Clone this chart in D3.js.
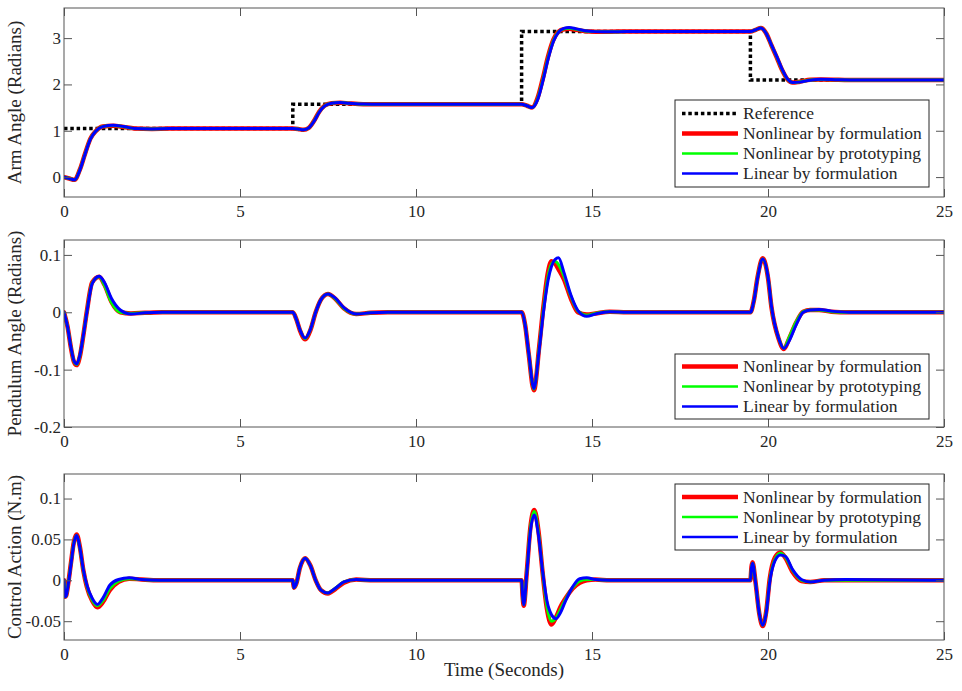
<!DOCTYPE html>
<html>
<head>
<meta charset="utf-8">
<script src="https://cdn.jsdelivr.net/npm/d3@7"></script>
<style>
  html, body { margin: 0; padding: 0; background: #fff; }
  svg { display: block; }
  text { font-family: "Liberation Serif", "Times New Roman", serif; fill: #262626; }
</style>
</head>
<body>
<svg id="chart" width="962" height="691"></svg>
<script>
// ---------------- DATA ----------------
const xTicks = [0, 5, 10, 15, 20, 25];
const seriesNames = ["Nonlinear by formulation", "Nonlinear by prototyping", "Linear by formulation"];
const seriesColors = ["#ff0000", "#00ff00", "#0000ff"];
const referenceName = "Reference";

// Reference (step) signal
const refTime = [0, 6.5, 13, 19.5, 25];
const refValue = [1.047, 1.571, 3.142, 2.094, 2.094];

// Arm angle
const armTime = [0, 0.15, 0.3, 0.45, 0.6, 0.75, 0.9, 1.1, 1.4, 1.7, 2.0, 2.5, 3.0,
  6.5, 6.65, 6.8, 6.95, 7.1, 7.25, 7.4, 7.6, 7.85, 8.1, 8.5, 9.0,
  13.0, 13.15, 13.3, 13.45, 13.6, 13.75, 13.9, 14.05, 14.2, 14.35, 14.55, 14.8, 15.1, 15.5, 16.0,
  19.5, 19.65, 19.8, 19.95, 20.1, 20.25, 20.4, 20.55, 20.7, 20.9, 21.2, 21.5, 22.0, 22.5, 25];
const armNonlinForm = [0, -0.03, -0.06, 0.16, 0.51, 0.83, 0.99, 1.09, 1.11, 1.08, 1.05, 1.04, 1.047,
  1.047, 1.04, 1.02, 1.06, 1.21, 1.41, 1.54, 1.595, 1.605, 1.59, 1.573, 1.571,
  1.571, 1.54, 1.50, 1.70, 2.12, 2.6, 2.96, 3.14, 3.19, 3.2, 3.18, 3.15, 3.14, 3.14, 3.142,
  3.142, 3.18, 3.22, 3.1, 2.84, 2.58, 2.31, 2.11, 2.04, 2.06, 2.1, 2.105, 2.1, 2.094, 2.094];
const armNonlinProto = [0, -0.03, -0.06, 0.155, 0.505, 0.825, 0.99, 1.09, 1.115, 1.085, 1.05, 1.04, 1.047,
  1.047, 1.04, 1.02, 1.06, 1.205, 1.405, 1.535, 1.595, 1.608, 1.592, 1.574, 1.571,
  1.571, 1.54, 1.50, 1.68, 2.09, 2.57, 2.94, 3.135, 3.2, 3.215, 3.19, 3.155, 3.14, 3.137, 3.142,
  3.142, 3.18, 3.22, 3.1, 2.845, 2.59, 2.32, 2.115, 2.04, 2.055, 2.095, 2.108, 2.1, 2.094, 2.094];
const armLinForm = [0, -0.03, -0.06, 0.15, 0.5, 0.82, 0.99, 1.09, 1.12, 1.09, 1.05, 1.04, 1.047,
  1.047, 1.04, 1.02, 1.06, 1.2, 1.4, 1.53, 1.595, 1.61, 1.595, 1.575, 1.571,
  1.571, 1.54, 1.50, 1.66, 2.06, 2.54, 2.92, 3.13, 3.21, 3.23, 3.2, 3.16, 3.14, 3.135, 3.142,
  3.142, 3.18, 3.22, 3.1, 2.85, 2.6, 2.33, 2.12, 2.04, 2.05, 2.09, 2.11, 2.1, 2.094, 2.094];

// Pendulum angle
const penTime = [0, 0.1, 0.2, 0.28, 0.36, 0.45, 0.55, 0.65, 0.8, 1.0, 1.15, 1.35, 1.6, 1.9, 2.3, 2.8,
  6.5, 6.6, 6.7, 6.85, 7.0, 7.15, 7.3, 7.5, 7.7, 7.95, 8.3, 8.7, 9.2,
  13.0, 13.1, 13.2, 13.35, 13.5, 13.62, 13.75, 13.85, 13.95, 14.05, 14.2, 14.4, 14.6, 14.85, 15.1, 15.5, 16.0,
  19.5, 19.6, 19.7, 19.85, 20.0, 20.1, 20.3, 20.45, 20.6, 20.8, 21.0, 21.2, 21.45, 21.8, 22.3, 25];
const penNonlinForm = [0, -0.025, -0.063, -0.086, -0.092, -0.077, -0.04, 0.002, 0.052, 0.062, 0.048, 0.018, 0.0, -0.002, -0.001, 0,
  0, -0.012, -0.031, -0.047, -0.031, 0.0, 0.022, 0.032, 0.024, 0.007, -0.003, -0.001, 0,
  0, -0.022, -0.072, -0.136, -0.06, 0.01, 0.07, 0.089, 0.085, 0.075, 0.058, 0.024, 0.0, -0.004, -0.002, 0.001, 0,
  0, 0.021, 0.06, 0.094, 0.06, 0.008, -0.046, -0.064, -0.046, -0.018, 0.001, 0.004, 0.004, 0.001, 0, 0];
const penNonlinProto = [0, -0.025, -0.062, -0.085, -0.091, -0.076, -0.04, 0.001, 0.051, 0.062, 0.047, 0.017, 0.0, -0.002, -0.001, 0,
  0, -0.012, -0.03, -0.046, -0.03, 0.0, 0.022, 0.032, 0.024, 0.007, -0.003, -0.001, 0,
  0, -0.022, -0.071, -0.134, -0.062, 0.005, 0.062, 0.084, 0.089, 0.083, 0.064, 0.028, 0.002, -0.005, -0.002, 0.001, 0,
  0, 0.02, 0.059, 0.093, 0.061, 0.009, -0.045, -0.063, -0.044, -0.017, 0.001, 0.004, 0.004, 0.001, 0, 0];
const penLinForm = [0, -0.025, -0.062, -0.084, -0.09, -0.075, -0.04, 0.0, 0.05, 0.063, 0.052, 0.024, 0.004, -0.003, -0.001, 0,
  0, -0.012, -0.03, -0.045, -0.03, 0.0, 0.022, 0.032, 0.025, 0.008, -0.003, -0.001, 0,
  0, -0.022, -0.07, -0.133, -0.065, 0.0, 0.055, 0.08, 0.092, 0.095, 0.07, 0.03, 0.003, -0.007, -0.003, 0.001, 0,
  0, 0.02, 0.058, 0.093, 0.062, 0.01, -0.045, -0.063, -0.05, -0.022, 0.0, 0.004, 0.005, 0.002, 0, 0];

// Control action
const ctlTime = [0, 0.03, 0.06, 0.12, 0.2, 0.28, 0.36, 0.45, 0.55, 0.65, 0.8, 0.95, 1.1, 1.3, 1.55, 1.85, 2.2, 2.7,
  6.5, 6.53, 6.6, 6.7, 6.85, 7.0, 7.15, 7.3, 7.5, 7.7, 7.95, 8.3, 8.8,
  13.0, 13.03, 13.06, 13.15, 13.25, 13.36, 13.48, 13.6, 13.72, 13.85, 13.98, 14.1, 14.25, 14.45, 14.65, 14.85, 15.1, 15.5, 16.0,
  19.5, 19.53, 19.56, 19.65, 19.75, 19.85, 19.95, 20.05, 20.2, 20.35, 20.5, 20.7, 20.95, 21.2, 21.6, 22.2, 25];
const ctlNonlinForm = [0, -0.02, -0.019, -0.004, 0.022, 0.047, 0.056, 0.041, 0.012, -0.008, -0.025, -0.033, -0.027, -0.012, -0.002, 0.002, 0.001, 0,
  0, -0.009, -0.004, 0.015, 0.027, 0.018, 0.0, -0.012, -0.016, -0.011, -0.003, 0.001, 0,
  0, -0.02, -0.031, 0.012, 0.065, 0.086, 0.06, 0.008, -0.035, -0.054, -0.045, -0.033, -0.022, -0.01, -0.003, 0.0, 0.001, 0, 0,
  0, 0.016, 0.022, -0.004, -0.04, -0.056, -0.038, 0.002, 0.028, 0.034, 0.027, 0.01, -0.001, -0.002, 0.0, 0.0, 0];
const ctlNonlinProto = [0, -0.02, -0.019, -0.004, 0.021, 0.046, 0.055, 0.04, 0.012, -0.007, -0.024, -0.031, -0.025, -0.01, -0.001, 0.002, 0.001, 0,
  0, -0.009, -0.004, 0.015, 0.027, 0.018, 0.0, -0.012, -0.0155, -0.01, -0.002, 0.001, 0,
  0, -0.02, -0.03, 0.011, 0.063, 0.084, 0.058, 0.009, -0.032, -0.05, -0.046, -0.036, -0.023, -0.009, -0.001, 0.001, 0.001, 0, 0,
  0, 0.015, 0.021, -0.004, -0.04, -0.055, -0.039, 0.0, 0.026, 0.033, 0.028, 0.012, 0.0, -0.002, 0, 0, 0];
const ctlLinForm = [0, -0.02, -0.019, -0.005, 0.02, 0.045, 0.055, 0.04, 0.013, -0.006, -0.022, -0.0295, -0.022, -0.006, 0.001, 0.003, 0.001, 0,
  0, -0.009, -0.004, 0.015, 0.027, 0.018, 0.0, -0.012, -0.0155, -0.01, -0.002, 0.001, 0,
  0, -0.02, -0.03, 0.01, 0.06, 0.08, 0.055, 0.01, -0.025, -0.042, -0.047, -0.04, -0.025, -0.008, 0.002, 0.003, 0.001, 0, 0,
  0, 0.015, 0.021, -0.004, -0.04, -0.055, -0.04, -0.002, 0.024, 0.031, 0.029, 0.013, 0.001, -0.002, 0.0, 0.001, 0];

const armYTicks = [0, 1, 2, 3];
const penYTicks = [-0.2, -0.1, 0, 0.1];
const ctlYTicks = [-0.05, 0, 0.05, 0.1];

// ---------------- LAYOUT ----------------
const svg = d3.select("#chart");
const left = 64, right = 944;
const x = d3.scaleLinear().domain([0, 25]).range([left, right]);
const tickLen = 8;
const axisColor = "#555";

const panels = [
  { top: 8, bottom: 197, domain: [-0.43, 3.65], ticks: armYTicks, label: "Arm Angle (Radians)",
    time: armTime, series: [armNonlinForm, armNonlinProto, armLinForm], reference: true,
    legend: { x: 675, y: 100, w: 254, h: 87 } },
  { top: 240, bottom: 427, domain: [-0.2, 0.126], ticks: penYTicks, label: "Pendulum Angle (Radians)",
    time: penTime, series: [penNonlinForm, penNonlinProto, penLinForm], reference: false,
    legend: { x: 675, y: 354, w: 254, h: 65 } },
  { top: 474, bottom: 640, domain: [-0.073, 0.13], ticks: ctlYTicks, label: "Control Action (N.m)",
    time: ctlTime, series: [ctlNonlinForm, ctlNonlinProto, ctlLinForm], reference: false,
    legend: { x: 675, y: 484, w: 254, h: 66 } }
];

const widths = [4.5, 3, 3];

panels.forEach((p, i) => {
  const y = d3.scaleLinear().domain(p.domain).range([p.bottom, p.top]);
  const g = svg.append("g");
  const clipId = "clip" + i;
  svg.append("clipPath").attr("id", clipId)
    .append("rect").attr("x", left).attr("y", p.top).attr("width", right - left).attr("height", p.bottom - p.top);

  g.append("rect").attr("x", left).attr("y", p.top).attr("width", right - left).attr("height", p.bottom - p.top)
    .attr("fill", "#fff");

  const lg = g.append("g").attr("clip-path", `url(#${clipId})`);
  if (p.reference) {
    const refData = refTime.map((t, k) => [t, refValue[k]]);
    lg.append("path").datum(refData)
      .attr("fill", "none").attr("stroke", "#000").attr("stroke-width", 3.5)
      .attr("stroke-dasharray", "3.5,2.8")
      .attr("d", d3.line().x(d => x(d[0])).y(d => y(d[1])).curve(d3.curveStepAfter));
  }
  p.series.forEach((vals, s) => {
    const data = p.time.map((t, k) => [t, vals[k]]);
    lg.append("path").datum(data)
      .attr("fill", "none").attr("stroke", seriesColors[s]).attr("stroke-width", widths[s])
      .attr("stroke-linejoin", "round").attr("stroke-linecap", "round")
      .attr("d", d3.line().x(d => x(d[0])).y(d => y(d[1])).curve(d3.curveMonotoneX));
  });

  const bottomAxis = d3.axisBottom(x).tickValues(xTicks).tickSizeInner(-tickLen).tickSizeOuter(0)
    .tickPadding(8).tickFormat(d3.format("d"));
  const ax = g.append("g").attr("transform", `translate(0,${p.bottom})`).call(bottomAxis);
  const topAxis = d3.axisTop(x).tickValues(xTicks).tickSizeInner(-tickLen).tickSizeOuter(0).tickFormat("");
  const axt = g.append("g").attr("transform", `translate(0,${p.top})`).call(topAxis);
  const leftAxis = d3.axisLeft(y).tickValues(p.ticks).tickSizeInner(-tickLen).tickSizeOuter(0)
    .tickPadding(3).tickFormat(d => (d < 0 ? "-" : "") + d3.format("")(Math.abs(d)));
  const axl = g.append("g").attr("transform", `translate(${left},0)`).call(leftAxis);
  const rightAxis = d3.axisRight(y).tickValues(p.ticks).tickSizeInner(-tickLen).tickSizeOuter(0).tickFormat("");
  const axr = g.append("g").attr("transform", `translate(${right},0)`).call(rightAxis);
  [ax, axt, axl, axr].forEach(a => {
    a.selectAll(".domain").remove();
    a.selectAll("line").attr("stroke", axisColor).attr("stroke-width", 1);
    a.selectAll("text").attr("fill", "#262626").style("font-size", "17px")
      .style("font-family", '"Liberation Serif", serif');
  });
  ax.selectAll("text").attr("dy", "0.71em");

  g.append("rect").attr("x", left).attr("y", p.top).attr("width", right - left).attr("height", p.bottom - p.top)
    .attr("fill", "none").attr("stroke", axisColor).attr("stroke-width", 1);

  g.append("text")
    .attr("transform", `translate(21,${(p.top + p.bottom) / 2}) rotate(-90)`)
    .attr("text-anchor", "middle")
    .style("font-size", "19px")
    .text(p.label);

  const L = p.legend;
  const leg = g.append("g");
  leg.append("rect").attr("x", L.x).attr("y", L.y).attr("width", L.w).attr("height", L.h)
    .attr("fill", "#fff").attr("stroke", "#262626").attr("stroke-width", 1);
  const entries = [];
  if (p.reference) entries.push({ name: referenceName, color: "#000", w: 3.5, dash: "3.5,2.8" });
  seriesNames.forEach((n, s) => entries.push({ name: n, color: seriesColors[s], w: widths[s] + (s === 0 ? 0 : -0.3), dash: null }));
  const rowH = 20;
  const firstY = L.y + (L.h - rowH * (entries.length - 1)) / 2;
  entries.forEach((e, k) => {
    const cy = firstY + k * rowH;
    const ln = leg.append("line").attr("x1", L.x + 7).attr("x2", L.x + 63).attr("y1", cy).attr("y2", cy)
      .attr("stroke", e.color).attr("stroke-width", e.w);
    if (e.dash) ln.attr("stroke-dasharray", e.dash);
    leg.append("text").attr("x", L.x + 68).attr("y", cy).attr("dy", "0.33em")
      .style("font-size", "17.5px").text(e.name);
  });
});

svg.append("text").attr("x", (left + right) / 2).attr("y", 676)
  .attr("text-anchor", "middle").style("font-size", "19px").text("Time (Seconds)");
</script>
</body>
</html>
